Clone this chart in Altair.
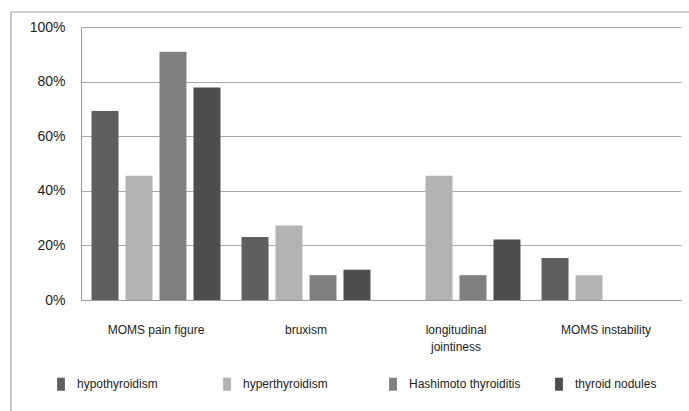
import altair as alt
import pandas as pd

# Share of patients with each finding, by thyroid condition
categories = ["MOMS pain figure", "bruxism", "longitudinal jointiness", "MOMS instability"]
groups = ["hypothyroidism", "hyperthyroidism", "Hashimoto thyroiditis", "thyroid nodules"]
hypothyroidism = [0.692, 0.231, 0.0, 0.154]
hyperthyroidism = [0.455, 0.273, 0.455, 0.091]
hashimoto = [0.909, 0.091, 0.091, 0.0]
nodules = [0.778, 0.111, 0.222, 0.0]
colors = ["#5f5f5f", "#b3b3b3", "#808080", "#4d4d4d"]

series = [hypothyroidism, hyperthyroidism, hashimoto, nodules]
rows = []
for g, vals in zip(groups, series):
    for c, v in zip(categories, vals):
        rows.append({"finding": c, "group": g, "share": v})
df = pd.DataFrame(rows)

FONT = "Liberation Sans"
TEXT = "#222222"

bars = alt.Chart(df).mark_bar().encode(
    x=alt.X(
        "finding:N",
        sort=categories,
        scale=alt.Scale(paddingInner=0, paddingOuter=0),
        axis=alt.Axis(
            title=None, labelAngle=0, ticks=False, grid=False, domainColor="#9a9a9a",
            labelPadding=24, labelFontSize=12, labelFont=FONT, labelColor=TEXT,
            labelLineHeight=17,
            labelExpr="datum.label == 'longitudinal jointiness' ? ['longitudinal', 'jointiness'] : datum.label",
        ),
    ),
    xOffset=alt.XOffset(
        "group:N", sort=groups,
        scale=alt.Scale(paddingInner=0.206, paddingOuter=0.31),
    ),
    y=alt.Y(
        "share:Q",
        scale=alt.Scale(domain=[0, 1]),
        axis=alt.Axis(
            title=None, format=".0%", values=[0, 0.2, 0.4, 0.6, 0.8, 1.0],
            ticks=False, grid=True, domainColor="#9a9a9a", gridColor="#a6a6a6",
            labelPadding=16, labelFontSize=14, labelFont=FONT, labelColor=TEXT,
        ),
    ),
    color=alt.Color(
        "group:N", sort=groups,
        scale=alt.Scale(domain=groups, range=colors),
        legend=alt.Legend(
            title=None, orient="none", direction="horizontal", columns=4,
            legendX=-27, legendY=350, gridAlign="all", columnPadding=31,
            symbolType="M-0.6,-1H0.6V1H-0.6Z", symbolSize=170, symbolStrokeWidth=0,
            symbolOffset=0, labelOffset=9,
            labelFontSize=12, labelFont=FONT, labelColor=TEXT, labelLimit=200,
        ),
    ),
)

# Outer frame lines along the top and left of the figure
frame_top = alt.Chart().mark_rule(color="#a0a0a0", strokeWidth=1.2).encode(
    x=alt.value(-70), x2=alt.value(620), y=alt.value(-15)
)
frame_left = alt.Chart().mark_rule(color="#a0a0a0", strokeWidth=1.2).encode(
    x=alt.value(-70), y=alt.value(-15), y2=alt.value(400)
)

chart = alt.layer(bars, frame_top, frame_left).properties(
    width=600, height=273,
    autosize=alt.AutoSizeParams(type="none"),
    padding={"left": 81, "top": 27, "right": 8, "bottom": 111},
    background="white",
).configure_view(stroke=None)

chart.save("out.html", embed_options={"renderer": "svg", "actions": False})
